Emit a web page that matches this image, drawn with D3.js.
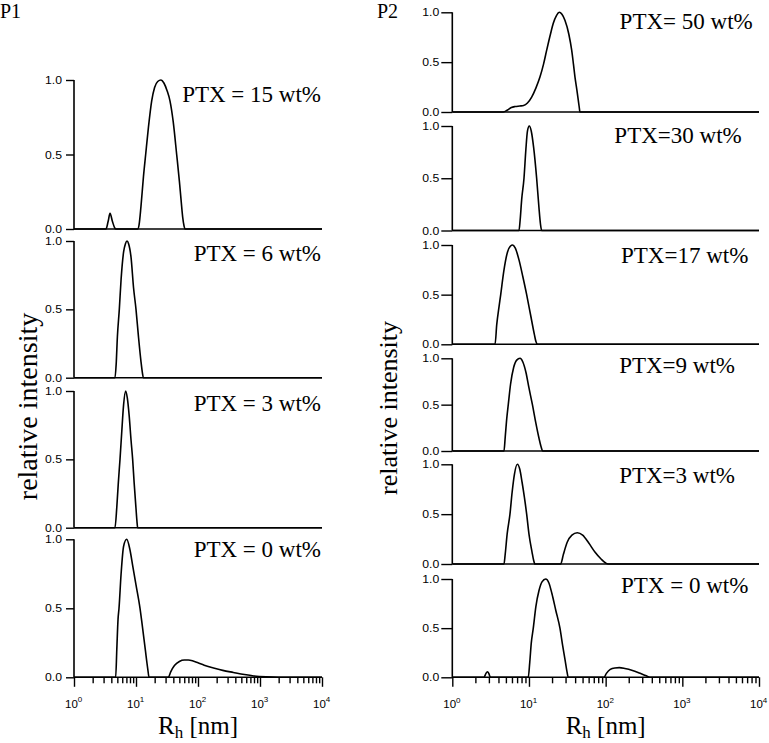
<!DOCTYPE html>
<html><head><meta charset="utf-8">
<script src="https://cdn.jsdelivr.net/npm/d3@7"></script>
<style>body{margin:0;background:#fff}svg{display:block}</style>
</head><body>
<svg id="c" width="769" height="743"></svg>
<script>
// ---------------- data ----------------
const xDomain = [1, 10000];
const xMajorTicks = [1, 10, 100, 1000, 10000];
const xTickExponents = ["0", "1", "2", "3", "4"];
const yTickValues = [0, 0.5, 1];
const yTickLabels = ["0.0", "0.5", "1.0"];
const panelNames = ["P1", "P2"];
const p1Labels = ["PTX = 15 wt%", "PTX = 6 wt%", "PTX = 3 wt%", "PTX = 0 wt%"];
const p2Labels = ["PTX= 50 wt%", "PTX=30 wt%", "PTX=17 wt%", "PTX=9 wt%", "PTX=3 wt%", "PTX = 0 wt%"];
const yTitle = "relative intensity";

// [Rh (nm), relative intensity]
const p1_15 = [[1,0],[3.28,0],[3.55,0.05],[3.81,0.105],[4.17,0.05],[4.57,0.005],[4.75,0],[10.64,0],[11.22,0.03],[12.02,0.15],[13.18,0.35],[14.32,0.5],[15.85,0.68],[17.91,0.86],[19.95,0.95],[22.39,0.99],[25.29,1.0],[28.18,0.98],[31.62,0.93],[35.32,0.86],[39.81,0.72],[45.29,0.5],[50.12,0.32],[53.70,0.18],[56.62,0.08],[59.57,0.02],[61.66,0],[10000,0]];
const p1_6 = [[1,0],[4.58,0],[4.79,0.1],[5.01,0.3],[5.38,0.5],[5.75,0.72],[6.31,0.92],[6.76,0.98],[7.16,1],[7.59,0.98],[8.32,0.88],[9.12,0.66],[10,0.5],[10.96,0.3],[12.02,0.12],[12.74,0.03],[13.12,0],[10000,0]];
const p1_3 = [[1,0],[4.58,0],[4.90,0.15],[5.19,0.33],[5.52,0.5],[5.89,0.7],[6.31,0.9],[6.81,1],[7.24,0.95],[7.76,0.82],[8.32,0.64],[8.83,0.5],[9.33,0.33],[10,0.14],[10.35,0.05],[10.64,0],[10000,0]];
const p1_0 = [[1,0],[4.70,0],[4.90,0.2],[5.13,0.42],[5.32,0.5],[5.75,0.75],[6.31,0.95],[7.08,1],[7.94,0.93],[8.91,0.8],[10,0.67],[11.61,0.5],[12.59,0.38],[14.13,0.2],[15.49,0.06],[16.22,0],[33.2,0],[36.3,0.04],[41.7,0.085],[50.1,0.115],[60.3,0.125],[69.8,0.125],[83.2,0.118],[100,0.105],[126,0.088],[178,0.068],[251,0.05],[372,0.035],[562,0.02],[794,0.01],[1259,0.003],[1995,0],[10000,0]];

const p2_50 = [[1,0],[4.62,0],[5.25,0.02],[5.89,0.045],[6.61,0.055],[7.59,0.06],[8.51,0.065],[9.55,0.09],[10.84,0.15],[12.30,0.24],[13.90,0.35],[15.49,0.48],[17.02,0.62],[19.05,0.78],[20.75,0.89],[22.91,0.97],[24.83,1.0],[26.92,0.98],[29.44,0.92],[33.11,0.78],[36.06,0.62],[38.02,0.48],[39.81,0.35],[42.17,0.22],[43.95,0.12],[45.19,0.05],[46.24,0],[10000,0]];
const p2_30 = [[1,0],[7.41,0],[7.67,0.1],[8.04,0.3],[8.61,0.5],[9.12,0.78],[9.55,0.95],[10.09,1],[10.72,0.95],[11.48,0.8],[12.59,0.5],[13.49,0.22],[14.13,0.06],[14.66,0],[10000,0]];
const p2_17 = [[1,0],[3.61,0],[3.80,0.2],[4.07,0.38],[4.28,0.5],[4.68,0.73],[5.25,0.93],[5.75,0.99],[6.12,1],[6.61,0.97],[7.41,0.85],[8.32,0.68],[9.33,0.5],[10.47,0.3],[11.75,0.1],[12.30,0.03],[12.82,0],[10000,0]];
const p2_9 = [[1,0],[4.72,0],[4.90,0.15],[5.13,0.35],[5.37,0.5],[5.75,0.72],[6.31,0.9],[6.92,0.98],[7.64,1],[8.32,0.96],[9.12,0.85],[10,0.68],[11.09,0.5],[12.30,0.3],[13.49,0.14],[14.45,0.04],[15.10,0],[10000,0]];
const p2_3 = [[1,0],[4.72,0],[4.90,0.1],[5.19,0.3],[5.65,0.5],[6.03,0.72],[6.46,0.9],[7.05,1],[7.59,0.95],[8.13,0.82],[8.71,0.67],[9.33,0.5],[10,0.3],[10.96,0.12],[11.48,0.04],[11.97,0],[25.88,0],[28.18,0.1],[31.62,0.22],[36.31,0.29],[42.66,0.314],[50.12,0.29],[60.26,0.21],[72.44,0.12],[87.10,0.05],[100,0.01],[108.1,0],[10000,0]];
const p2_0 = [[1,0],[2.59,0],[2.75,0.04],[2.86,0.057],[2.99,0.04],[3.09,0.01],[3.20,0],[9.79,0],[10.23,0.15],[10.72,0.35],[11.38,0.5],[12.30,0.72],[13.49,0.88],[14.79,0.97],[16.52,1],[18.20,0.96],[19.95,0.85],[22.39,0.68],[25.35,0.5],[27.54,0.32],[29.51,0.18],[31.26,0.06],[32.51,0],[95.1,0],[102.3,0.04],[114.8,0.08],[131.8,0.095],[150.7,0.098],[177.8,0.09],[223.9,0.07],[281.8,0.04],[338.8,0.015],[378.4,0],[10000,0]];

const p1Series = [p1_15, p1_6, p1_3, p1_0];
const p2Series = [p2_50, p2_30, p2_17, p2_9, p2_3, p2_0];

// ---------------- layout ----------------
const panels = [
  { name: panelNames[0], nameX: 0, nameY: 18, x0: 74, x1: 322, tickLen: 8, tickGap: 4,
    yTitleX: 37, yTitleY: 406.5, yTitleSize: 28, xLabBase: 707.5, xTitleBase: 734,
    series: p1Series, labels: p1Labels,
    rows: [ {top:80, bot:229, lx:321, ly:101.7},
            {top:241, bot:377.7, lx:321, ly:261},
            {top:391, bot:527.7, lx:321, ly:411},
            {top:539.3, bot:677.3, lx:321, ly:556.7} ] },
  { name: panelNames[1], nameX: 377, nameY: 18, x0: 452.3, x1: 759, tickLen: 11, tickGap: 2,
    yTitleX: 397, yTitleY: 408, yTitleSize: 26, xLabBase: 708.3, xTitleBase: 734,
    series: p2Series, labels: p2Labels,
    rows: [ {top:12.3, bot:112, lx:752.7, ly:29.3},
            {top:126, bot:230.5, lx:741.7, ly:142.7},
            {top:245, bot:344.3, lx:748.3, ly:263.3},
            {top:358.3, bot:451, lx:735, ly:373.3},
            {top:464.3, bot:564, lx:735, ly:483.3},
            {top:579, bot:677.3, lx:748.3, ly:592.7} ] }
];

const svg = d3.select("#c");
svg.append("rect").attr("width", 769).attr("height", 743).attr("fill", "#fff");
const serif = "Liberation Serif, Times New Roman, serif";
const sans = "Liberation Sans, Arial, sans-serif";

panels.forEach(p => {
  const x = d3.scaleLog().domain(xDomain).range([p.x0, p.x1]);
  const g = svg.append("g");

  g.append("text").attr("x", p.nameX).attr("y", p.nameY).attr("fill", "#000")
    .attr("font-family", serif).attr("font-size", 20).text(p.name);

  p.rows.forEach((r, i) => {
    const y = d3.scaleLinear().domain([0, 1]).range([r.bot, r.top]);
    // y axis
    const ya = g.append("g").attr("transform", `translate(${p.x0},0)`)
      .call(d3.axisLeft(y).tickValues(yTickValues).tickSize(p.tickLen).tickPadding(p.tickGap)
        .tickFormat((d, k) => yTickLabels[k]));
    ya.select(".domain").remove();
    ya.selectAll(".tick line").attr("stroke", "#000").attr("stroke-width", 1.4);
    ya.selectAll(".tick text").attr("font-family", sans).attr("font-size", 10.5)
      .attr("fill", "#000").attr("dy", "0.34em")
      .attr("textLength", 17).attr("lengthAdjust", "spacingAndGlyphs");
    g.append("line").attr("x1", p.x0).attr("x2", p.x0).attr("y1", r.top).attr("y2", r.bot)
      .attr("stroke", "#000").attr("stroke-width", 1.6);
    g.append("line").attr("x1", p.x0).attr("x2", p.x1).attr("y1", r.bot).attr("y2", r.bot)
      .attr("stroke", "#000").attr("stroke-width", 1.6);

    // curve
    const line = d3.line().x(d => x(d[0])).y(d => y(d[1])).curve(d3.curveMonotoneX);
    g.append("path").datum(p.series[i]).attr("d", line)
      .attr("fill", "none").attr("stroke", "#000").attr("stroke-width", 1.6)
      .attr("stroke-linejoin", "round");

    // label
    g.append("text").attr("x", r.lx).attr("y", r.ly).attr("text-anchor", "end").attr("fill", "#000")
      .attr("font-family", serif).attr("font-size", 23).text(p.labels[i]);

    // bottom x axis
    if (i === p.rows.length - 1) {
      const allTicks = x.ticks();
      const xa = g.append("g").attr("transform", `translate(0,${r.bot})`)
        .call(d3.axisBottom(x).tickValues(allTicks).tickSize(6).tickFormat(""));
      xa.select(".domain").remove();
      xa.selectAll(".tick line")
        .attr("stroke", "#000").attr("stroke-width", 1.4)
        .attr("y2", d => xMajorTicks.includes(d) ? 9.5 : 6);
      xMajorTicks.forEach((v, k) => {
        const t = g.append("text").attr("x", x(v) - 9).attr("y", p.xLabBase).attr("fill", "#000")
          .attr("font-family", sans).attr("font-size", 11.5);
        t.append("tspan").text("10");
        t.append("tspan").attr("font-size", 8).attr("dy", -5.5).text(xTickExponents[k]);
      });
      const xt = g.append("text").attr("x", (p.x0 + p.x1) / 2).attr("y", p.xTitleBase)
        .attr("text-anchor", "middle").attr("font-family", serif).attr("font-size", 25).attr("fill", "#000");
      xt.append("tspan").text("R");
      xt.append("tspan").attr("font-size", 17).attr("dy", 4).text("h");
      xt.append("tspan").attr("dy", -4).text(" [nm]");
    }
  });

  g.append("text")
    .attr("transform", `translate(${p.yTitleX},${p.yTitleY}) rotate(-90)`)
    .attr("text-anchor", "middle").attr("font-family", serif).attr("fill", "#000")
    .attr("font-size", p.yTitleSize).text(yTitle);
});
</script>
</body></html>
